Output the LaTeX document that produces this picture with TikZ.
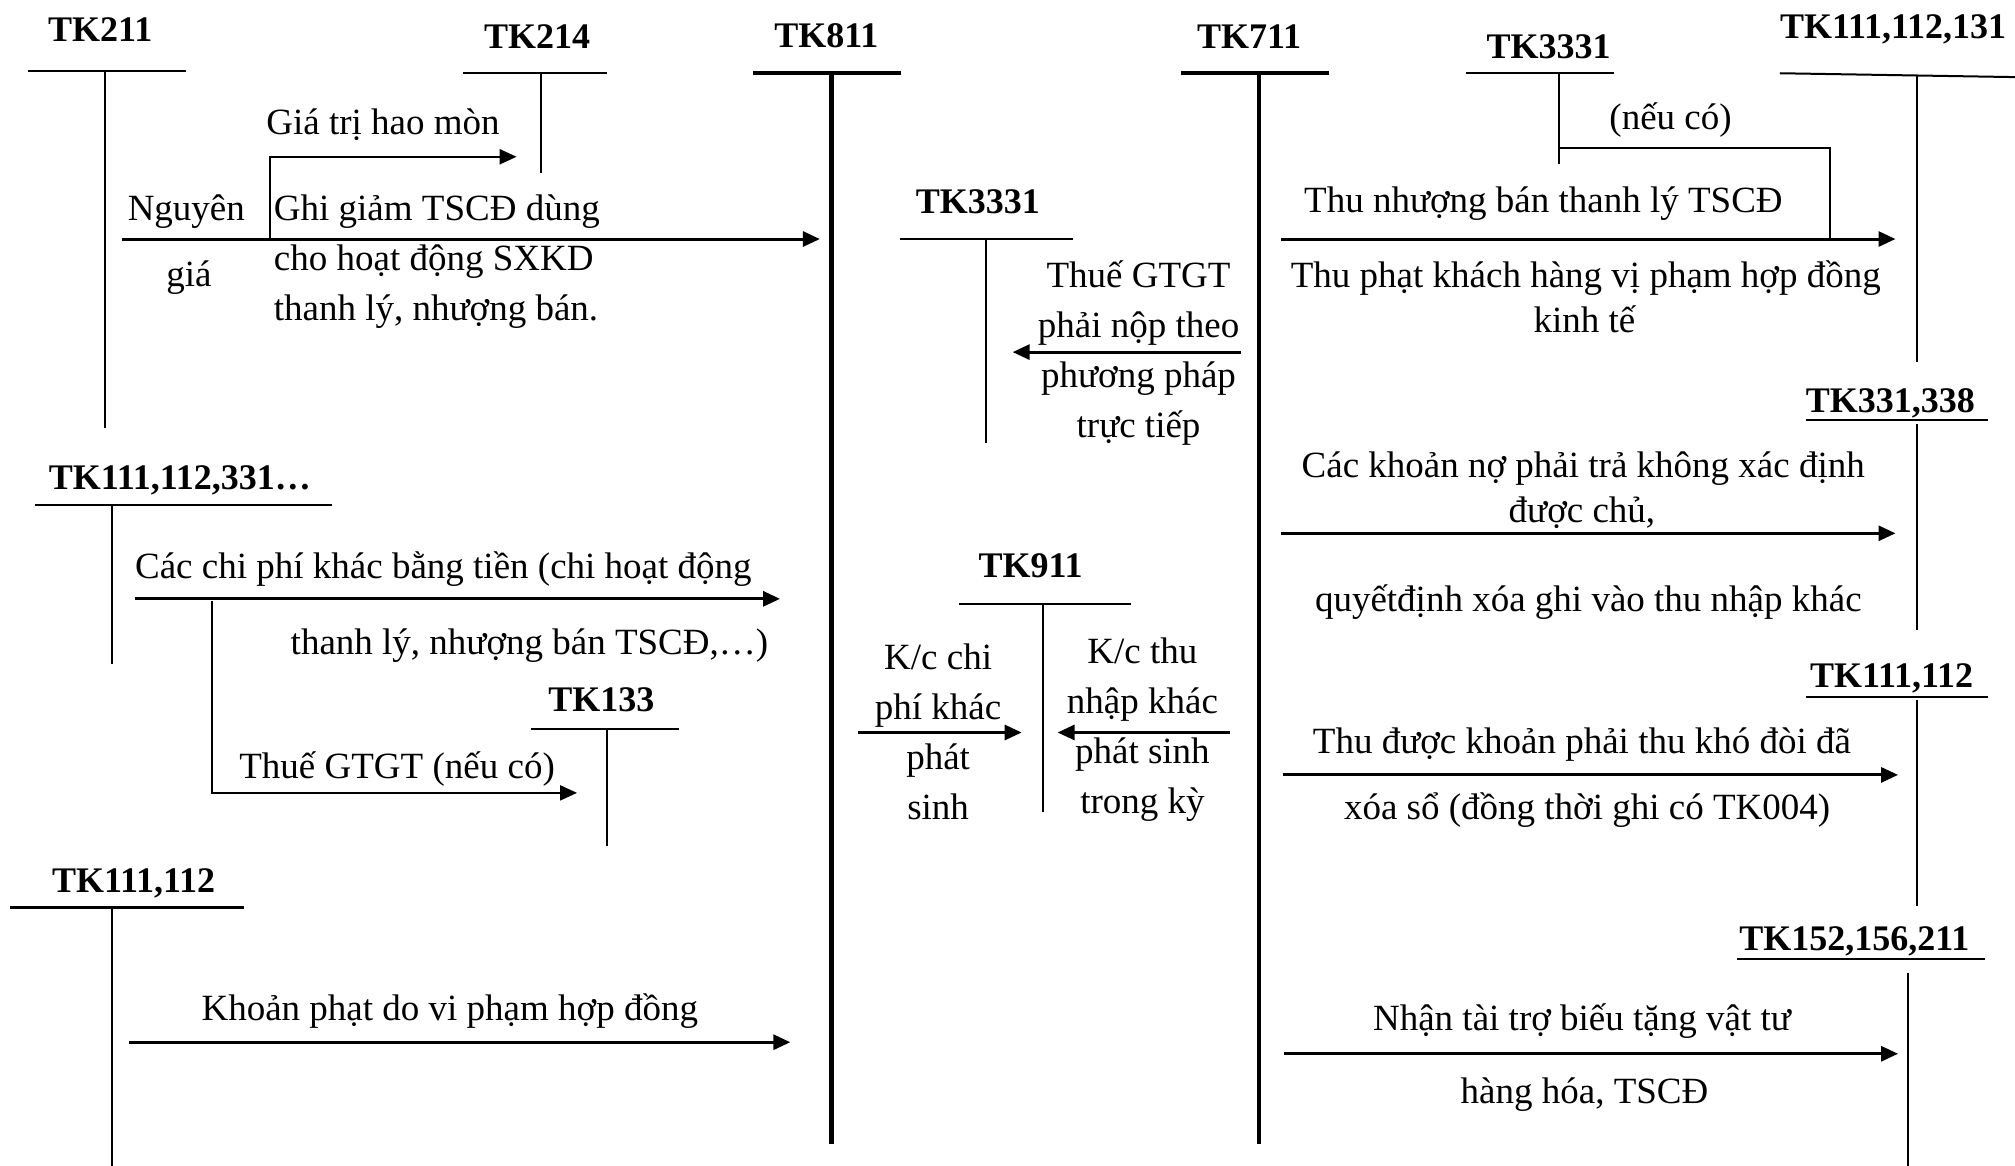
\documentclass[tikz,border=0pt]{standalone}
\usepackage{fontspec}
\setmainfont{Liberation Serif}
\usetikzlibrary{arrows.meta}
\begin{document}
\begin{tikzpicture}[x=1.285pt,y=-1.285pt,
  txt/.style={inner sep=0pt,font=\fontsize{37}{50}\selectfont,align=center,yshift=-3.5pt},
  acc/.style={inner sep=0pt,font=\fontsize{36}{44}\selectfont\bfseries,yshift=-1.5pt},
  thin/.style={line width=2pt},
  thick/.style={line width=4.2pt},
  arr/.style={line width=3pt,-{Triangle[length=17pt,width=15pt]}},
  conn/.style={line width=2.2pt}]
\useasboundingbox (0,0) rectangle (1568,907);

% ---------------- account labels
\node[acc] (tk211) at (78,22) {TK211};
\node[acc] (tk214) at (418,27) {TK214};
\node[acc] (tk811) at (643,27) {TK811};
\node[acc] (tk711) at (972,27) {TK711};
\node[acc] (tk3331m) at (761,156) {TK3331};
\node[acc] (tk3331r) at (1205,35) {TK3331};
\node[acc,anchor=west] (tk111r) at (1385,22) {TK111,112,131};
\node[acc] (tk331) at (1471,313) {TK331,338};
\node[acc] (tk111b) at (1472,527) {TK111,112};
\node[acc] (tk152) at (1443,731) {TK152,156,211};
\node[acc] (tk111c) at (140,373) {TK111,112,331…};
\node[acc] (tk133) at (468,543) {TK133};
\node[acc] (tk111l) at (104,686) {TK111,112};
\node[acc] (tk911) at (802,439) {TK911};

% ---------------- T-account shapes
% TK211
\draw[thin] (22,55) -- (145,55);
\draw[thin] (82,55) coordinate (a211t) -- (82,333) coordinate (a211b);
% TK214
\draw[thin] (360,57) -- (472,57);
\draw[thin] (421,57) coordinate (a214t) -- (421,135) coordinate (a214b);
% TK811
\draw[thick] (586,57) -- (701,57);
\draw[thick] (647,57) coordinate (a811t) -- (647,890) coordinate (a811b);
% TK711
\draw[thick] (919,57) -- (1034,57);
\draw[thick] (980,57) coordinate (a711t) -- (980,890) coordinate (a711b);
% TK3331 middle
\draw[thin] (700,186) -- (835,186);
\draw[thin] (767,186) coordinate (a3331mt) -- (767,345) coordinate (a3331mb);
% TK3331 right
\draw[thin] (1141,57) -- (1256,57);
\draw[thin] (1213,57) coordinate (a3331rt) -- (1213,128) coordinate (a3331rb);
% TK111,112,131
\draw[thin] (1385,57) -- (1568,60);
\draw[thin] (1492,58) coordinate (a111rt) -- (1492,282) coordinate (a111rb);
% TK331,338
\draw[thin] (1405,327) -- (1547,327);
\draw[thin] (1492,330) coordinate (a331t) -- (1492,490) coordinate (a331b);
% TK111,112 right
\draw[thin] (1405,542) -- (1547,542);
\draw[thin] (1492,545) coordinate (a111bt) -- (1492,705) coordinate (a111bb);
% TK152,156,211
\draw[thin] (1352,746) -- (1545,746);
\draw[thin] (1485,757) coordinate (a152t) -- (1485,907) coordinate (a152b);
% TK111,112,331...
\draw[thin] (27,393) -- (258,393);
\draw[thin] (87,393) coordinate (a111ct) -- (87,517) coordinate (a111cb);
% TK133
\draw[thin] (413,567) -- (528,567);
\draw[thin] (472,567) coordinate (a133t) -- (472,658) coordinate (a133b);
% TK111,112 left
\draw[line width=2.6pt] (8,706) -- (190,706);
\draw[thin] (87,706) coordinate (a111lt) -- (87,907) coordinate (a111lb);
% TK911
\draw[thin] (746,470) -- (880,470);
\draw[thin] (812,470) coordinate (a911t) -- (812,632) coordinate (a911b);

% ---------------- connectors
\coordinate (s1) at (95,186);
\coordinate (e1) at (638,186);
\draw[arr] (s1) -- (e1);
\coordinate (b1) at (210,186);
\coordinate (e2) at (402,122);
\draw[conn,-{Triangle[length=17pt,width=15pt]}] (b1) |- (e2);

\coordinate (s3) at (966,274);
\coordinate (e3) at (788,274);
\draw[arr] (s3) -- (e3);

\coordinate (s4) at (997,186);
\coordinate (e4) at (1475,186);
\draw[arr] (s4) -- (e4);
\coordinate (v1) at (1213,115);
\coordinate (v2) at (1424,186);
\draw[conn] (v1) -| (v2);

\coordinate (s5) at (997,415);
\coordinate (e5) at (1475,415);
\draw[arr] (s5) -- (e5);

\coordinate (s6) at (998,603);
\coordinate (e6) at (1477,603);
\draw[arr] (s6) -- (e6);

\coordinate (s7) at (999,820);
\coordinate (e7) at (1477,820);
\draw[arr] (s7) -- (e7);

\coordinate (s8) at (105,466);
\coordinate (e8) at (607,466);
\draw[arr] (s8) -- (e8);
\coordinate (b8) at (165,468);
\coordinate (e9) at (449,617);
\draw[conn,-{Triangle[length=17pt,width=15pt]}] (b8) |- (e9);

\coordinate (s10) at (100,811);
\coordinate (e10) at (615,811);
\draw[arr] (s10) -- (e10);

\coordinate (s11) at (668,570);
\coordinate (e11) at (795,570);
\draw[arr] (s11) -- (e11);
\coordinate (s12) at (957,570);
\coordinate (e12) at (823,570);
\draw[arr] (s12) -- (e12);

% ---------------- labels
\node[txt] (l1) at (298,94) {Giá trị hao mòn};
\node[txt] (l2) at (145,162) {Nguyên};
\node[txt] (l3) at (147,213) {giá};
\node[txt,align=left,anchor=west] (l4) at (213,201) {Ghi giảm TSCĐ dùng\\cho hoạt động SXKD\\thanh lý, nhượng bán.};
\node[txt] (l5) at (886,272) {Thuế GTGT\\phải nộp theo\\phương pháp\\trực tiếp};
\node[txt] (l6) at (1300,91) {(nếu có)};
\node[txt] (l7) at (1201,156) {Thu nhượng bán thanh lý TSCĐ};
\node[txt] (l8) at (1234,214) {Thu phạt khách hàng vị phạm hợp đồng};
\node[txt] (l9) at (1233,246) {kinh tế};
\node[txt] (l10) at (1232,362) {Các khoản nợ phải trả không xác định};
\node[txt] (l11) at (1231,396) {được chủ,};
\node[txt] (l12) at (1236,466) {quyếtđịnh xóa ghi vào thu nhập khác};
\node[txt] (l13) at (1231,577) {Thu được khoản phải thu khó đòi đã};
\node[txt] (l14) at (1235,628) {xóa sổ (đồng thời ghi có TK004)};
\node[txt] (l15) at (1231,792) {Nhận tài trợ biếu tặng vật tư};
\node[txt] (l16) at (1233,849) {hàng hóa, TSCĐ};
\node[txt] (l17) at (345,440) {Các chi phí khác bằng tiền (chi hoạt động};
\node[txt] (l18) at (412,500) {thanh lý, nhượng bán TSCĐ,…)};
\node[txt] (l19) at (309,596) {Thuế GTGT (nếu có)};
\node[txt] (l20) at (350,784) {Khoản phạt do vi phạm hợp đồng};
\node[txt] (l21) at (730,567) {K/c chi\\phí khác\\phát\\sinh};
\node[txt] (l22) at (889,565) {K/c thu\\nhập khác\\phát sinh\\trong kỳ};
\end{tikzpicture}
\end{document}
